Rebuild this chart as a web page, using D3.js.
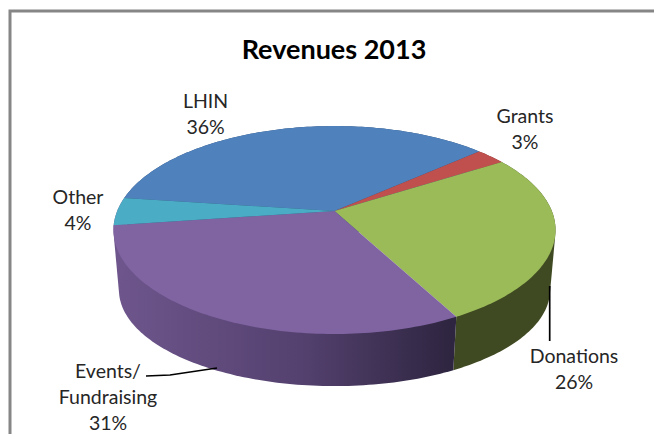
<!DOCTYPE html>
<html>
<head>
    <meta charset="utf-8">
    <script src="https://d3js.org/d3.v7.min.js"></script>
    <style>
        html, body { margin: 0; padding: 0; background: #fff; overflow: hidden; }
        svg { display: block; }
        text { font-family: Lato, "Open Sans", sans-serif; fill: #262626; }
    </style>
</head>
<body>
    <svg></svg>
</body>

<script>
    // Data
    var categories = ["LHIN", "Grants", "Donations", "Events/Fundraising", "Other"];
    var shares = [36.3, 2.6, 26.2, 30.6, 4.3];
    var labelLines = [["LHIN"], ["Grants"], ["Donations"], ["Events/", "Fundraising"], ["Other"]];
    var colors = ["#4f81bd", "#c0504d", "#9bbb59", "#8064a2", "#4bacc6"];

    // Variables
    var width = 654;
    var height = 434;
    var startDeg = 277.6;
    var tilt = 0.183;   // perspective: far edge shrinks, near edge grows

    var svg = d3.select("svg").attr("width", width).attr("height", height);

    // Side wall shading for the purple slice runs left to right
    var grad = svg.append("defs").append("linearGradient")
        .attr("id", "eventsWall")
        .attr("gradientUnits", "userSpaceOnUse")
        .attr("x1", 116).attr("x2", 452).attr("y1", 0).attr("y2", 0);
    grad.append("stop").attr("offset", "0").attr("stop-color", "#6e568c");
    grad.append("stop").attr("offset", "0.55").attr("stop-color", "#54416f");
    grad.append("stop").attr("offset", "1").attr("stop-color", "#2e2540");

    // the Other wall only peeks out at the far left, the purple shade carries on there
    var wallFill = ["#2f4d70", "#723030", "#404a22", "url(#eventsWall)", "#6e568c"];

    // Chart frame, only the left and top edges are in the crop
    svg.append("path")
        .attr("d", "M10,434V11H654")
        .attr("fill", "none")
        .attr("stroke", "#868686")
        .attr("stroke-width", 3);

    // Top rim and bottom rim of the disc, both seen in perspective
    var topRim = { x: 334.5, y: 211, a: 217.3, b: 100.5 };
    var bottomRim = { x: 334.5, y: 272.5, a: 211.9, b: 92.8 };

    function project(rim, angle) {
        var u = Math.sin(angle), v = Math.cos(angle);
        var w = 1 + tilt * v;
        return [rim.x + rim.a * u / w, rim.y - rim.b * v / w];
    }

    var pie = d3.pie()
        .sort(null)
        .startAngle(startDeg * Math.PI / 180)
        .endAngle((startDeg + 360) * Math.PI / 180);

    var slices = pie(shares);
    var line = d3.line();

    function arcAngles(d) {
        var n = Math.max(2, Math.ceil((d.endAngle - d.startAngle) / 0.02));
        return d3.range(n + 1).map(function (i) {
            return d.startAngle + (d.endAngle - d.startAngle) * i / n;
        });
    }

    // Walls first so the top face covers whatever is behind it.
    // Hull keeps the silhouette straight where the two rims meet at the sides.
    svg.append("g").selectAll("path")
        .data(slices)
        .enter().append("path")
        .attr("d", function (d) {
            var angles = arcAngles(d);
            var upper = angles.map(function (a) { return project(topRim, a); });
            var lower = angles.map(function (a) { return project(bottomRim, a); });
            return line(d3.polygonHull(upper.concat(lower))) + "Z";
        })
        .style("fill", function (d, i) { return wallFill[i]; });

    // Top face
    svg.append("g").selectAll("path")
        .data(slices)
        .enter().append("path")
        .attr("d", function (d) {
            var pts = arcAngles(d).map(function (a) { return project(topRim, a); });
            return line([[topRim.x, topRim.y]].concat(pts)) + "Z";
        })
        .style("fill", function (d, i) { return colors[i]; });

    // Leader lines
    var leaders = [
        [[146, 376], [170, 375], [217, 368]],
        [[549.7, 286], [549.7, 341]]
    ];
    svg.append("g").selectAll("path")
        .data(leaders)
        .enter().append("path")
        .attr("d", line)
        .attr("fill", "none")
        .attr("stroke", "#000")
        .attr("stroke-width", 1.7);

    // Title
    svg.append("text")
        .attr("x", 334)
        .attr("y", 59)
        .attr("text-anchor", "middle")
        .style("font-size", "27px")
        .style("font-weight", "bold")
        .style("fill", "#000")
        .text("Revenues 2013");

    // Labels, one anchor per category: centre x and first baseline
    var labelAnchors = [[205.5, 108], [525, 123], [574, 363], [108, 378], [78, 204]];
    var lineStep = 26;

    var labels = svg.append("g").selectAll("text")
        .data(categories)
        .enter().append("text")
        .attr("text-anchor", "middle")
        .style("font-size", "19.5px");

    labels.each(function (name, i) {
        var rows = labelLines[i].concat([Math.round(shares[i]) + "%"]);
        d3.select(this).selectAll("tspan")
            .data(rows)
            .enter().append("tspan")
            .attr("x", labelAnchors[i][0])
            .attr("y", function (r, j) { return labelAnchors[i][1] + j * lineStep; })
            .text(function (r) { return r; });
    });
</script>
</html>
